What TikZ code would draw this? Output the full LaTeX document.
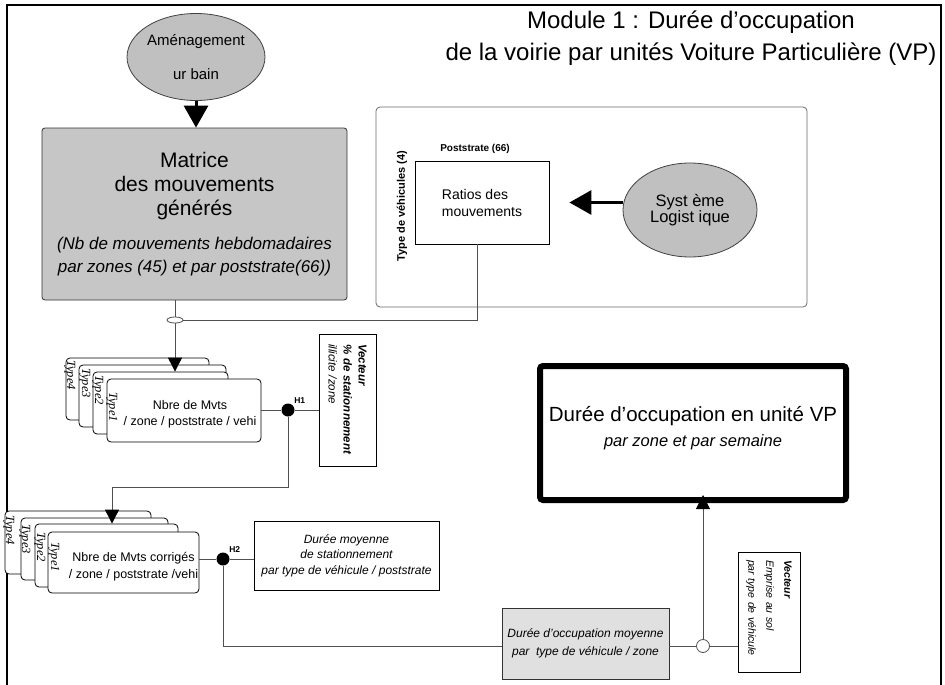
\documentclass[tikz,border=0pt]{standalone}
\usepackage{fontspec}
\setmainfont{Liberation Sans}
\newfontfamily\typeserif{Liberation Serif}
\usepackage{tikz}
\usetikzlibrary{arrows.meta,shapes.geometric}
\definecolor{ovalgrey}{HTML}{C0C0C0}
\definecolor{matgrey}{HTML}{C6C6C6}
\definecolor{occgrey}{HTML}{E0E0E0}
\definecolor{wiregrey}{HTML}{505050}
\definecolor{framegrey}{HTML}{6A6A6A}
\newcommand{\pxfont}[2]{\fontsize{#1pt}{#2pt}\selectfont}
\newcommand{\itpart}[1]{{\itshape\pxfont{17}{19}#1}}

\begin{document}
\begin{tikzpicture}[x=1pt, y=-1pt,
    wire/.style={draw=wiregrey, line width=0.9pt},
    box/.style={draw=black, line width=0.8pt, inner sep=0pt, align=center},
    card/.style={draw=black, fill=white, line width=0.8pt, rounded corners=4pt, inner sep=0pt},
    typetag/.style={rotate=-90, anchor=west, inner sep=0pt, font=\typeserif\itshape\pxfont{12.5}{13}},
    oval/.style={ellipse, draw=black!75, fill=ovalgrey, line width=0.8pt, inner sep=0pt, align=center},
    hub/.style={circle, fill=black, minimum size=13pt, inner sep=0pt},
    bigarrow/.style={-{Triangle[length=22pt,width=24pt]}, line width=3pt},
    headarrow/.style={-{Triangle[length=14pt,width=14pt,color=black]}}
]
\useasboundingbox (0,0) rectangle (945,685);
\draw[line width=2.5pt] (7,690) -- (7,5) -- (941,5) -- (941,690);

% ---- TITLE ----
\node[font=\pxfont{24}{32}, align=center] (title) at (691,38) {Module 1 : Durée d’occupation\\de la voirie par unités Voiture Particulière (VP)};

% ---- MATRICE ----
\node[oval, minimum width=135pt, minimum height=87pt, font=\pxfont{15}{17}] (amen) at (196,57) {Aménagement\\[17pt]ur bain};
\node[box, draw=black!80, fill=matgrey, rounded corners=3pt, minimum width=305pt, minimum height=172pt, font=\pxfont{21}{24}] (matrice) at (194.5,214) {Matrice\\des mouvements\\générés\\[10pt]\itpart{(Nb de mouvements hebdomadaires}\\[-1.5pt]\itpart{par zones (45) et par poststrate(66))}};
\draw[bigarrow] (amen.south) -- (amen.south |- matrice.north);

% ---- RATIOS ----
\node[draw=framegrey, rounded corners=4pt, line width=0.8pt, minimum width=431pt, minimum height=200pt] (logframe) at (591.5,207) {};
\node[font=\bfseries\pxfont{10}{12}] (poststr) at (475,149) {Poststrate (66)};
\node[rotate=90, font=\bfseries\pxfont{11}{13}] (typeveh) at (402,206) {Type de véhicules (4)};
\node[box, align=left, minimum width=134pt, minimum height=83pt, font=\pxfont{14}{17}] (ratios) at (482,202.5) {Ratios des\\mouvements};
\node[oval, minimum width=134pt, minimum height=94pt, font=\pxfont{16.5}{16.5}] (syst) at (690,210) {Syst ème\\Logist ique};
\draw[bigarrow, shorten >=20pt] (syst.west |- ratios.east) -- (ratios.east);

\node[ellipse, draw=wiregrey, fill=white, minimum width=16pt, minimum height=6pt, inner sep=0pt, line width=0.8pt] (jn1) at (175,320) {};
\draw[wire] ([xshift=-5pt]ratios.south) |- (jn1.east);
\draw[wire] (jn1 |- matrice.south) -- (jn1.north);

% ---- STACK 1 ----
\node[card, minimum width=143pt, minimum height=62pt] (cA4) at (137.5,389) {};
\node[typetag] (tA4) at (70,360) {Type4};
\node[card, minimum width=147pt, minimum height=62pt] (cA3) at (152.5,396) {};
\node[typetag] (tA3) at (85,368) {Type3};
\node[card, minimum width=135pt, minimum height=62pt] (cA2) at (160.5,403) {};
\node[typetag] (tA2) at (98,375) {Type2};
\node[card, minimum width=154pt, minimum height=63pt, label={[xshift=6pt, yshift=-4pt, align=center, font=\pxfont{12.5}{16.5}]center:{Nbre de Mvts\\/ zone / poststrate / vehi}}] (cA1) at (184,410.5) {};
\node[typetag] (tA1) at (112,392) {Type1};
\draw[wire, headarrow] (jn1.south) -- (jn1 |- cA2.north);

\node[box, rotate=-90, minimum width=132pt, minimum height=57pt, text width=112pt, align=left, font=\bfseries\itshape\pxfont{11.5}{15}] (vec1) at (347.5,400) {Vecteur\\\% de stationnement\\{\mdseries illicite /zone}};
\node[hub, label={[font=\bfseries\pxfont{8.5}{9}, inner sep=0pt, label distance=2pt]45:H1}] (h1) at (288,410) {};
\draw[wire] (cA1.east |- h1) -- (h1) -- (h1 -| vec1.south);

% ---- STACK 2 ----
\coordinate (k1) at (112,487);
\node[card, minimum width=146pt, minimum height=63pt] (cB4) at (78,542.5) {};
\node[typetag] (tB4) at (9,515) {Type4};
\node[card, minimum width=147pt, minimum height=62pt] (cB3) at (94.5,549) {};
\node[typetag] (tB3) at (25,524) {Type3};
\node[card, minimum width=143pt, minimum height=63pt] (cB2) at (106.5,555.5) {};
\node[typetag] (tB2) at (40,532) {Type2};
\node[card, minimum width=151pt, minimum height=61pt, label={[xshift=10pt, yshift=-4pt, align=center, font=\pxfont{12.5}{16.5}]center:{Nbre de Mvts corrigés\\/ zone / poststrate /vehi}}] (cB1) at (123.5,562.5) {};
\node[typetag] (tB1) at (54,542) {Type1};
\draw[wire, headarrow] (h1) |- (k1) -- (k1 |- cB2.north);

\node[box, minimum width=185pt, minimum height=69pt, font=\itshape\pxfont{12}{15.5}] (dmoy) at (346.5,555.5) {Durée moyenne\\de stationnement\\par type de véhicule / poststrate};
\node[hub, label={[font=\bfseries\pxfont{8.5}{9}, inner sep=0pt, label distance=2pt]45:H2}] (h2) at (223,559) {};
\draw[wire] (cB1.east |- h2) -- (h2) -- (h2 -| dmoy.west);

% ---- RESULT ----
\node[box, fill=occgrey, draw=black!80, minimum width=167pt, minimum height=71pt, font=\itshape\pxfont{12}{18}] (occ) at (585.5,643.5) {Durée d’occupation moyenne\\par~ type de véhicule / zone};
\node[circle, draw=wiregrey, fill=white, minimum size=13pt, inner sep=0pt, line width=0.8pt] (jn2) at (703,646) {};
\node[box, rotate=-90, minimum width=120pt, minimum height=62pt, text width=104pt, align=left, font=\itshape\pxfont{10.5}{18}] (vec2) at (769,612) {\textbf{Vecteur}\\Emprise au sol\\par type de véhicule};
\node[box, line width=6pt, rounded corners=3pt, minimum width=306pt, minimum height=134pt, label={[yshift=4.5pt, align=center, font=\pxfont{20.5}{25}]center:{Durée d’occupation en unité VP\\\itshape\pxfont{16.5}{18}par zone et par semaine}}] (res) at (693,433) {};
\draw[wire] (h2) |- (occ.west |- jn2);
\draw[wire] (occ.east |- jn2) -- (jn2.west);
\draw[wire] (jn2.east) -- (jn2 -| vec2.south);
\draw[wire, headarrow, shorten >=-8pt] (jn2.north) -- (jn2 |- res.south);
\end{tikzpicture}
\end{document}
